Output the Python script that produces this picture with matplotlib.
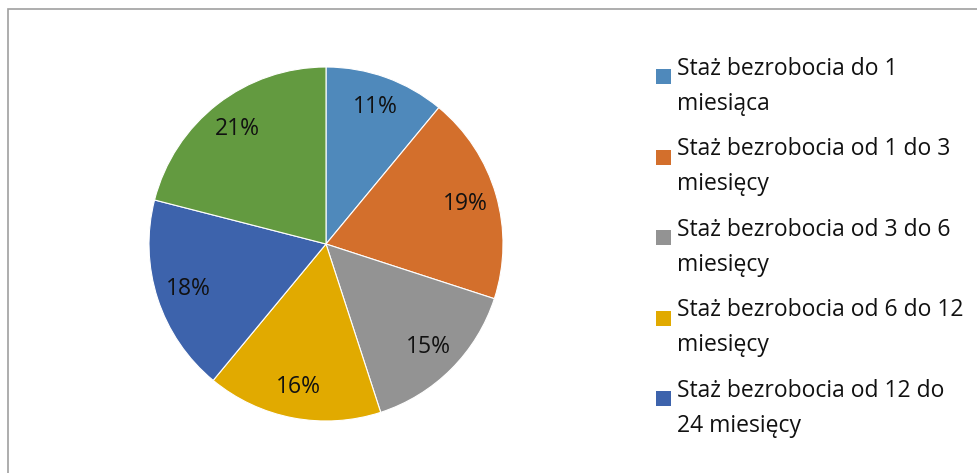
import matplotlib.pyplot as plt
from matplotlib.patches import Rectangle, Patch
from matplotlib.legend_handler import HandlerPatch

# Dane
labels = [
    "Staż bezrobocia do 1\nmiesiąca",
    "Staż bezrobocia od 1 do 3\nmiesięcy",
    "Staż bezrobocia od 3 do 6\nmiesięcy",
    "Staż bezrobocia od 6 do 12\nmiesięcy",
    "Staż bezrobocia od 12 do\n24 miesięcy",
    "Staż bezrobocia powyżej 24\nmiesięcy",
]
values = [11, 19, 15, 16, 18, 21]
colors = ["#4F89BB", "#D36F2C", "#939393", "#E1AA00", "#3D63AC", "#639A40"]

plt.rcParams["font.family"] = ["Open Sans", "DejaVu Sans"]


class RaisedSquare(HandlerPatch):
    """Kwadracik legendy podniesiony w stronę pierwszej linii tekstu."""

    def __init__(self, dy=4.5, **kw):
        super().__init__(**kw)
        self.dy = dy

    def create_artists(self, legend, orig_handle, xdescent, ydescent,
                       width, height, fontsize, trans):
        p = Rectangle((-xdescent, -ydescent + self.dy), width, height,
                      facecolor=orig_handle.get_facecolor(), edgecolor="none",
                      transform=trans)
        return [p]


fig = plt.figure(figsize=(9.78, 4.73), dpi=100)
W, H = 978, 473

# Ramka wykresu
fig.patches.append(Rectangle((8 / W, -0.01), 1.0, (H - 9) / H + 0.01,
                             transform=fig.transFigure, fill=False,
                             edgecolor="#A0A0A0", linewidth=1.2))

# Koło: środek (326, 244), promień ~177 px
r = 177
cx, cy = 326, 244
ax = fig.add_axes([(cx - r) / W, (H - cy - r) / H, 2 * r / W, 2 * r / H])
wedges, texts, autotexts = ax.pie(
    values,
    colors=colors,
    startangle=90,
    counterclock=False,
    autopct="%1.0f%%",
    pctdistance=0.82,
    wedgeprops=dict(edgecolor="white", linewidth=0.8),
    textprops=dict(fontsize=16.5, color="#111111"),
)
ax.set_xlim(-1, 1)
ax.set_ylim(-1, 1)
ax.set_aspect("equal")

# Legenda (widoczne tylko 5 pozycji)
handles = [Patch(facecolor=c, edgecolor="none") for c in colors[:5]]
leg = fig.legend(
    handles,
    labels[:5],
    loc="upper left",
    bbox_to_anchor=(635 / W, 1 - 36 / H),
    frameon=False,
    fontsize=16.5,
    handlelength=0.65,
    handleheight=0.62,
    handletextpad=0.28,
    labelspacing=0.93,
    handler_map={Patch: RaisedSquare(dy=7.5)},
)
for t in leg.get_texts():
    t.set_color("#111111")
    t.set_linespacing(1.62)

fig.savefig("out.png", dpi=100)
